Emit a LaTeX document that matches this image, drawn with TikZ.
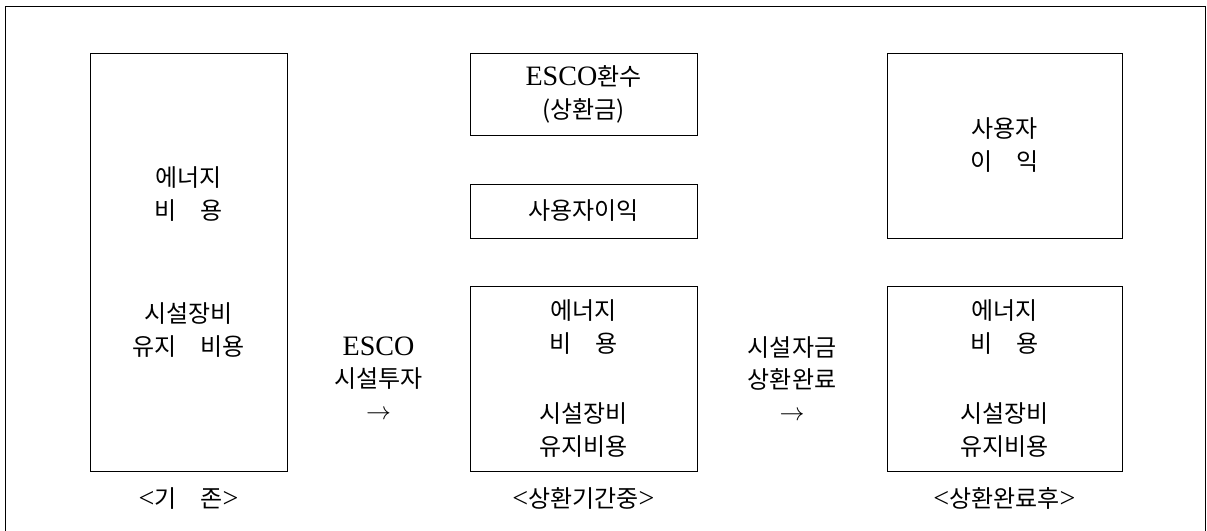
\documentclass[tikz,border=0pt]{standalone}
\usepackage{fontspec}
\setmainfont{Noto Sans CJK KR}
\newfontfamily\latin[Scale=1.17]{Liberation Serif}
\newcommand{\toarrow}{{\fontsize{24.88}{32}\selectfont$\rightarrow$}}
\usetikzlibrary{positioning,calc}

\begin{document}
\begin{tikzpicture}[x=1pt,y=-1pt,node distance=16pt]
  \tikzstyle{box}=[rectangle,draw,line width=1pt,align=center,inner sep=0pt,font=\fontsize{24}{33}\selectfont]
  \tikzstyle{caption}=[align=center,inner sep=0pt,font=\fontsize{24}{32}\selectfont]

  \useasboundingbox (0,0) rectangle (1207,530);
  \draw[line width=0.8pt] (5,540) -- (5,6) -- (1205.5,6) -- (1205.5,540); % frame

  % before
  \node [box,minimum width=197pt,minimum height=418pt] (kizon) at (188.5,262)
    {에너지\\비\hspace{1em}용\\[70pt]시설장비\\유지\hspace{1em}비용};
  % during payback
  \node [box,minimum width=227pt,minimum height=82pt] (hwansu) at (583.5,94)
    {{\latin ESCO}환수\\(상환금)};
  \node [box,minimum width=227pt,minimum height=54pt] (iik) at (583.5,211) {사용자이익};
  \node [box,minimum width=227pt,minimum height=185pt] (jung) at (583.5,378.5)
    {에너지\\비\hspace{1em}용\\[37pt]시설장비\\유지비용};
  % after payback
  \node [box,minimum width=235pt,minimum height=185pt] (huiik) at (1004.5,145.5)
    {사용자\\이\hspace{1em}익};
  \node [box,minimum width=235pt,minimum height=185pt] (hu) at (1004.5,378.5)
    {에너지\\비\hspace{1em}용\\[37pt]시설장비\\유지비용};

  \node [caption,below=of kizon] {{\latin <}기\hspace{1em}존{\latin >}};
  \node [caption,below=of jung] {{\latin <}상환기간중{\latin >}};
  \node [caption,below=of hu] {{\latin <}상환완료후{\latin >}};

  \node [caption] (tuja) at ($(kizon.east|-jung.center)!0.5!(jung.west)$)
    {{\latin ESCO}\\시설투자\\\toarrow};
  \node [caption] (wanryo) at ($(jung.east)!0.5!(hu.west)$)
    {시설자금\\상환완료\\\toarrow};
\end{tikzpicture}
\end{document}
